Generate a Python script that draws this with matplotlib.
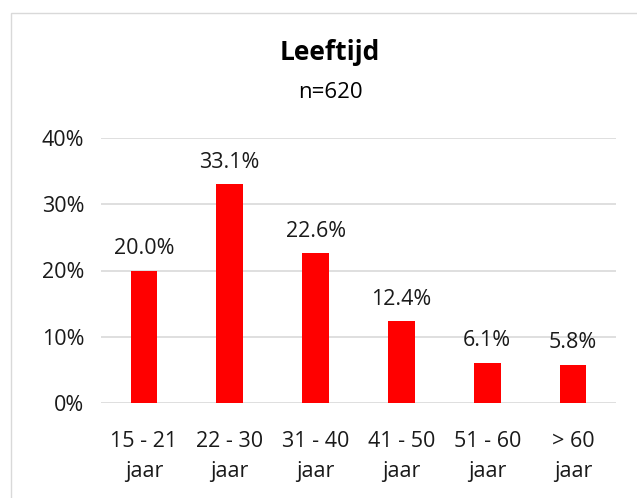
import matplotlib.pyplot as plt
from matplotlib.patches import Rectangle

categories = ['15 - 21\njaar', '22 - 30\njaar', '31 - 40\njaar', '41 - 50\njaar', '51 - 60\njaar', '> 60\njaar']
values = [20.0, 33.1, 22.6, 12.4, 6.1, 5.8]
yticks = [0, 10, 20, 30, 40]

plt.rcParams['font.family'] = ['Open Sans', 'DejaVu Sans']

fig = plt.figure(figsize=(6.37, 4.98), dpi=100)
ax = fig.add_axes([101/637, 1 - 403/498, 515/637, 265/498])

x = range(len(values))
ax.bar(x, values, width=0.31, color='#ff0000', zorder=3)
for i, v in zip(x, values):
    ax.annotate(f'{v:.1f}%', (i, v), xytext=(0, 8), textcoords='offset points',
                ha='center', va='bottom', fontsize=15.5, color='#1a1a1a')

ax.set_xlim(-0.5, len(values) - 0.5)
ax.set_ylim(0, 40)
ax.set_yticks(yticks)
ax.set_yticklabels([f'{t}%' for t in yticks], fontsize=15.5, color='#1a1a1a')
ax.set_xticks(list(x))
ax.set_xticklabels(categories, fontsize=15.5, color='#1a1a1a', linespacing=1.55)
ax.tick_params(length=0, pad=12)
ax.tick_params(axis='x', pad=20)
ax.grid(axis='y', color='#d9d9d9', linewidth=1.2, zorder=0)
for s in ax.spines.values():
    s.set_visible(False)

fig.text(330/637, 1 - 52/498, 'Leeftijd', ha='center', va='center', fontsize=19, fontweight='bold')
fig.text(330/637, 1 - 93/498, 'n=620', ha='center', va='center', fontsize=16)

fig.patches.append(Rectangle((11/637, -0.1), 1, 1 - 13/498 + 0.1, transform=fig.transFigure,
                             fill=False, edgecolor='#d9d9d9', linewidth=1))

fig.savefig('out.png', dpi=100)
